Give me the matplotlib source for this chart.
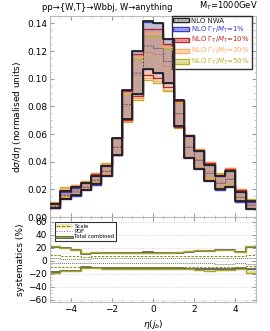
import numpy as np
import matplotlib
matplotlib.use('Agg')
import matplotlib.pyplot as plt
from matplotlib.patches import Patch
from matplotlib.lines import Line2D

# eta(j_b) bin edges
edges = [-5.0, -4.5, -4.0, -3.5, -3.0, -2.5, -2.0, -1.5, -1.0, -0.5, 0.0,
         0.5, 1.0, 1.5, 2.0, 2.5, 3.0, 3.5, 4.0, 4.5, 5.0]

# NLO NWA band (upper / lower edge)
nwa_up = [0.0095, 0.0188, 0.0217, 0.0245, 0.0300, 0.0372, 0.0570, 0.0920, 0.1198, 0.1416,
          0.1402, 0.1290, 0.0846, 0.0588, 0.0480, 0.0377, 0.0296, 0.0336, 0.0185, 0.0113]
nwa_lo = [0.0065, 0.0133, 0.0157, 0.0197, 0.0236, 0.0300, 0.0450, 0.0710, 0.0890, 0.1070,
          0.1038, 0.0966, 0.0660, 0.0430, 0.0350, 0.0264, 0.0200, 0.0217, 0.0113, 0.0061]

# central values for finite widths
w1 = [0.0078, 0.0158, 0.0184, 0.0220, 0.0267, 0.0335, 0.0510, 0.0815, 0.1046, 0.1240,
      0.1222, 0.1128, 0.0755, 0.0508, 0.0412, 0.0320, 0.0246, 0.0274, 0.0147, 0.0086]
w10 = [0.0084, 0.0170, 0.0193, 0.0228, 0.0276, 0.0343, 0.0512, 0.0805, 0.1025, 0.1195,
       0.1180, 0.1095, 0.0745, 0.0512, 0.0420, 0.0330, 0.0256, 0.0284, 0.0156, 0.0092]
w30 = [0.0088, 0.0178, 0.0199, 0.0234, 0.0282, 0.0348, 0.0512, 0.0795, 0.1010, 0.1170,
       0.1158, 0.1075, 0.0740, 0.0514, 0.0425, 0.0336, 0.0262, 0.0290, 0.0161, 0.0096]
w50 = [0.0091, 0.0184, 0.0203, 0.0238, 0.0286, 0.0351, 0.0513, 0.0788, 0.0995, 0.1150,
       0.1140, 0.1060, 0.0736, 0.0515, 0.0428, 0.0340, 0.0266, 0.0294, 0.0165, 0.0099]

# systematics in percent
tot_up_nwa = [21, 19, 16, 11, 12, 12, 12, 12, 12.5, 13, 12.5, 12, 12, 14, 15, 15, 16, 16, 13, 21]
tot_up_50 = [22, 20, 17, 12, 13, 12, 12, 12.5, 12.5, 12.5, 12, 12, 13, 15, 16, 15, 16, 17, 14, 22]
tot_dn_nwa = [-17, -15, -15, -10, -10.5, -11, -11, -11, -11, -11, -11, -11, -11.5, -12, -12.5,
              -12.5, -12, -12, -11, -12]
tot_dn_50 = [-18, -16, -16, -11, -11, -12, -12, -12, -12, -12, -12, -12, -12, -13, -14, -15,
             -14, -14, -12, -19]
scale_up = [9, 8, 8, 6, 7, 7, 7, 7, 7.5, 8, 8, 8, 8, 8, 8, 8, 8, 8, 7, 9]
scale_dn = [-9, -10, -10, -8, -9, -9, -9, -9, -9, -9, -9, -9, -9, -9, -9, -10, -10, -10, -9, -8]
pdf_up = [4, 3, 3, 3, 4, 4, 4, 4, 4, 4, 4, 4, 4, 4, 4, 4, 5, 5, 4, 5]
pdf_dn = [-4, -3, -3, -3, -4, -4, -4, -4, -4, -4, -4, -4, -4, -4, -4, -4, -5, -5, -4, -5]

labels = ['NLO NWA', r'NLO $\Gamma_T/M_T$=1%', r'NLO $\Gamma_T/M_T$=10%',
          r'NLO $\Gamma_T/M_T$=30%', r'NLO $\Gamma_T/M_T$=50%']
colors = ['#202020', '#3a3ad0', '#c02828', '#ffa860', '#b8b428']
fill_alpha = [0.35, 0.14, 0.2, 0.14, 0.1]

plt.rcParams['font.family'] = 'DejaVu Sans'
plt.rcParams['mathtext.fontset'] = 'dejavusans'

e = np.array(edges)
nu = np.array(nwa_up)
nl = np.array(nwa_lo)
nc = (nu + nl) / 2
rel_up = nu / nc
rel_lo = nl / nc


def stepv(v):
    v = np.asarray(v, dtype=float)
    return np.append(v, v[-1])


fig = plt.figure(figsize=(2.70, 3.31), dpi=100)
ax = fig.add_axes([0.185, 0.344, 0.763, 0.608])
ax2 = fig.add_axes([0.185, 0.088, 0.763, 0.256])

series = [(nu, nl, nc)]
for c in [w1, w10, w30, w50]:
    c = np.array(c)
    series.append((c * rel_up, c * rel_lo, c))

for i, (up, lo, c) in enumerate(series):
    col = colors[i]
    fcol = '#909090' if i == 0 else col
    ax.fill_between(e, stepv(lo), stepv(up), step='post', color=fcol,
                    alpha=fill_alpha[i], lw=0, zorder=1 + i)
    lw = 1.3 if i == 0 else 1.0
    ax.step(e, stepv(up), where='post', color=col, lw=lw, zorder=10 - i)
    ax.step(e, stepv(lo), where='post', color=col, lw=lw, zorder=10 - i)
    ax.step(e, stepv(c), where='post', color=col, lw=0.5, ls=(0, (3, 2)),
            alpha=0.5, zorder=10 - i)

ax.set_xlim(-5, 5)
ax.set_ylim(0, 0.1454)
ax.set_yticks([0.0, 0.02, 0.04, 0.06, 0.08, 0.10, 0.12, 0.14])
ax.set_yticklabels(['0.00', '0.02', '0.04', '0.06', '0.08', '0.10', '0.12', '0.14'])
ax.set_xticks([-4, -2, 0, 2, 4])
ax.set_xticklabels([])
ax.set_ylabel(r'd$\sigma$/d$\eta$ (normalised units)', fontsize=6.5, labelpad=2)
ax.tick_params(direction='in', color='#999999', labelsize=6.5, length=3,
               top=True, right=True, pad=2)
ax.minorticks_on()
ax.tick_params(which='minor', direction='in', color='#bbbbbb', length=1.5,
               top=True, right=True)
for s in ax.spines.values():
    s.set_color('#bbbbbb')

handles = []
for i in range(5):
    fcol = '#909090' if i == 0 else colors[i]
    handles.append((Patch(facecolor=fcol, alpha=0.35, edgecolor='none'),
                    Patch(facecolor='none', edgecolor=colors[i], lw=1.0),
                    Line2D([], [], color=colors[i], lw=0.5, ls='--', alpha=0.6)))
leg = ax.legend(handles, labels, loc='upper right', fontsize=5.0, frameon=True,
                fancybox=False, edgecolor='black', handlelength=2.2, handleheight=0.55,
                handletextpad=0.4, borderpad=0.25, labelspacing=0.1, borderaxespad=0,
                bbox_to_anchor=(0.98, 1.0))
leg.get_frame().set_linewidth(1.0)
for t, col in zip(leg.get_texts(), colors):
    t.set_color(col)

fig.text(0.156, 0.963, 'pp\u2192{W,T}\u2192Wbbj, W\u2192anything',
         fontsize=6, va='bottom')
fig.text(0.955, 0.963, r'M$_T$=1000GeV', fontsize=6, va='bottom', ha='right')

# systematics panel
ax2.fill_between(e, stepv(tot_up_nwa), stepv(tot_up_50), step='post', color='#d8d8a0',
                 alpha=0.7, lw=0)
ax2.fill_between(e, stepv(tot_dn_nwa), stepv(tot_dn_50), step='post', color='#d8d8a0',
                 alpha=0.7, lw=0)
ax2.step(e, stepv(tot_up_nwa), where='post', color='#505050', lw=1.2)
ax2.step(e, stepv(tot_dn_nwa), where='post', color='#505050', lw=1.2)
ax2.step(e, stepv(tot_up_50), where='post', color='#a8a820', lw=1.0)
ax2.step(e, stepv(tot_dn_50), where='post', color='#a8a820', lw=1.0)
ax2.step(e, stepv(scale_up), where='post', color='#8a8a10', lw=0.7, ls=(0, (2.5, 1.5)))
ax2.step(e, stepv(scale_dn), where='post', color='#8a8a10', lw=0.7, ls=(0, (2.5, 1.5)))
ax2.step(e, stepv(pdf_up), where='post', color='#707070', lw=0.7, ls=(0, (1, 1)))
ax2.step(e, stepv(pdf_dn), where='post', color='#707070', lw=0.7, ls=(0, (1, 1)))

ax2.set_xlim(-5, 5)
ax2.set_ylim(-63, 67)
ax2.set_yticks([-60, -40, -20, 0, 20, 40, 60])
ax2.set_xticks([-4, -2, 0, 2, 4])
ax2.set_xticklabels(['\u22124', '\u22122', '0', '2', '4'])
ax2.set_yticklabels(['\u221260', '\u221240', '\u221220', '0', '20', '40', '60'])
ax2.grid(axis='y', color='#cccccc', ls=':', lw=0.6)
ax2.tick_params(direction='in', color='#999999', labelsize=6.5, length=3,
                top=True, right=True, pad=2)
ax2.minorticks_on()
ax2.tick_params(which='minor', direction='in', color='#bbbbbb', length=1.5,
                top=True, right=True)
for s in ax2.spines.values():
    s.set_color('#bbbbbb')
ax2.set_ylabel('systematics (%)', fontsize=6.5, labelpad=2)
ax2.set_xlabel(r'$\eta(j_b)$', fontsize=6.5, labelpad=3)

h2 = [(Patch(facecolor='#e8e8b0', edgecolor='none'),
       Line2D([], [], color='#8a8a10', lw=0.7, ls='--')),
      Line2D([], [], color='#707070', lw=0.7, ls=':'),
      (Line2D([], [], color='#505050', lw=2.0),
       Line2D([], [], color='#a8a820', lw=0.8))]
leg2 = ax2.legend(h2, ['Scale', 'PDF', 'Total combined'], loc='upper left', fontsize=3.8,
                  frameon=True, fancybox=False, edgecolor='black', handlelength=3.0,
                  handletextpad=0.4, borderpad=0.3, labelspacing=0.05,
                  bbox_to_anchor=(0.01, 0.97))
leg2.get_frame().set_linewidth(0.8)

fig.savefig('out.png', dpi=100)
